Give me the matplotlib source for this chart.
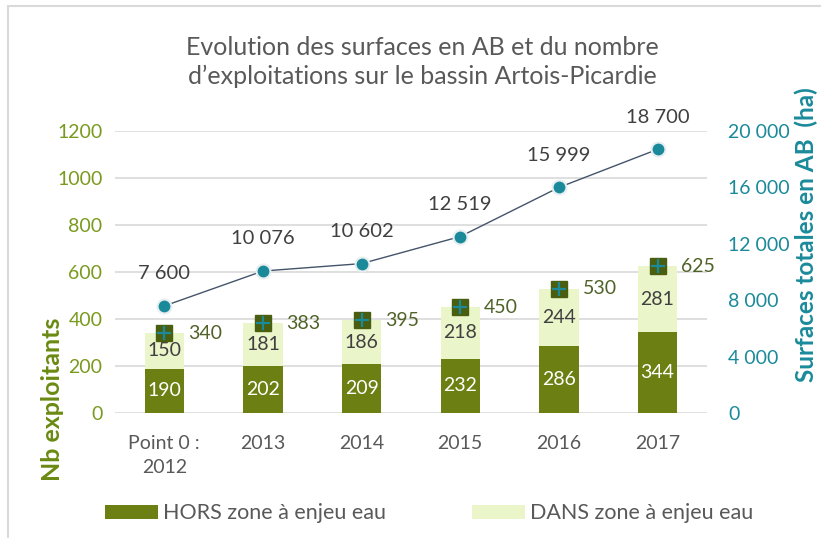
import matplotlib
matplotlib.use("Agg")
import matplotlib.pyplot as plt
import numpy as np
from matplotlib.patches import Rectangle

plt.rcParams['font.family'] = ['Lato', 'DejaVu Sans']

# data
categories = ["Point 0 :\n2012", "2013", "2014", "2015", "2016", "2017"]
hors_zone = [190, 202, 209, 232, 286, 344]
dans_zone = [150, 181, 186, 218, 244, 281]
totals = [340, 383, 395, 450, 530, 625]
surfaces = [7600, 10076, 10602, 12519, 15999, 18700]

c_dark = "#6B7F12"
c_light = "#EBF5CA"
c_olive_txt = "#4F6228"
c_left_tick = "#7A9A1E"
c_teal = "#1A8A9A"
c_line = "#44546A"
c_gray = "#595959"

def fmt(v):
    return "{:,}".format(int(v)).replace(",", " ")

fig = plt.figure(figsize=(8.21, 5.38), dpi=100)
ax = fig.add_axes([0.140, 0.232, 0.721, 0.5245])

x = np.arange(len(categories))
ax.bar(x, hors_zone, width=0.4, color=c_dark, zorder=2, label="HORS zone à enjeu eau")
ax.bar(x, dans_zone, width=0.4, bottom=hors_zone, color=c_light, zorder=2,
       label="DANS zone à enjeu eau")

for i in range(len(x)):
    ax.text(x[i], hors_zone[i] / 2, str(hors_zone[i]), ha="center", va="center",
            color="white", fontsize=14, zorder=4)
    ax.text(x[i], hors_zone[i] + dans_zone[i] / 2, str(dans_zone[i]), ha="center",
            va="center", color="#404040", fontsize=14, zorder=4)

ax.plot(x, totals, ls="none", marker="s", ms=11, color="#4A5E10", zorder=5)
ax.plot(x, totals, ls="none", marker="+", ms=10, mew=1.6, color=c_teal, zorder=6)
for i in range(len(x)):
    ax.annotate(str(totals[i]), (x[i], totals[i]), xytext=(17, 0),
                textcoords="offset points", ha="left", va="center",
                color=c_olive_txt, fontsize=14, zorder=6)

ax.set_xlim(-0.5, len(x) - 0.5)
ax.set_ylim(0, 1200)
ax.set_yticks(range(0, 1201, 200))
ax.yaxis.grid(True, color="#D9D9D9", lw=1.2, zorder=0)
ax.set_axisbelow(True)
for s in ax.spines.values():
    s.set_visible(False)
ax.tick_params(axis="y", length=0, pad=9, labelsize=14, labelcolor=c_left_tick)
ax.tick_params(axis="x", length=0, pad=16, labelsize=14, labelcolor=c_gray)
ax.set_xticks(x)
ax.set_xticklabels(categories, linespacing=1.5)

ax2 = ax.twinx()
ax2.plot(x, surfaces, color=c_line, lw=1, marker="o", ms=10, mfc=c_teal,
         mec="#E6EEF0", mew=1.5, zorder=7)
for i in range(len(x)):
    ax2.annotate(fmt(surfaces[i]), (x[i], surfaces[i]), xytext=(0, 17),
                 textcoords="offset points", ha="center", va="bottom",
                 color="#404040", fontsize=14.5)
ax2.set_ylim(0, 20000)
ax2.set_yticks(range(0, 20001, 4000))
ax2.set_yticklabels([fmt(v) for v in range(0, 20001, 4000)])
for s in ax2.spines.values():
    s.set_visible(False)
ax2.tick_params(axis="y", length=0, pad=15.5, labelsize=14, labelcolor=c_teal)

fig.text(0.064, 0.258, "Nb exploitants", rotation=90, ha="center", va="center",
         color="#6B8A12", fontsize=18, fontweight="bold")
fig.text(0.982, 0.563, "Surfaces totales en AB  (ha)", rotation=90, ha="center",
         va="center", color=c_teal, fontsize=17.5, fontweight="bold")

fig.text(0.515, 0.884, "Evolution des surfaces en AB et du nombre\nd\u2019exploitations sur le bassin Artois-Picardie",
         ha="center", va="center", color=c_gray, fontsize=18, linespacing=1.3)

h1, l1 = ax.get_legend_handles_labels()
fig.legend(h1, l1, loc="center", bbox_to_anchor=(0.523, 0.046), ncol=2, frameon=False,
           fontsize=15.5, labelcolor=c_gray, handlelength=2.45, handleheight=0.65,
           handletextpad=0.25, columnspacing=4.0)

fig.patches.append(Rectangle((8 / 821, -0.1), 1.2, 1 - 6 / 538 + 0.1,
                             transform=fig.transFigure, fill=False,
                             edgecolor="#D9D9D9", lw=1.5))

fig.savefig("out.png", dpi=100)
